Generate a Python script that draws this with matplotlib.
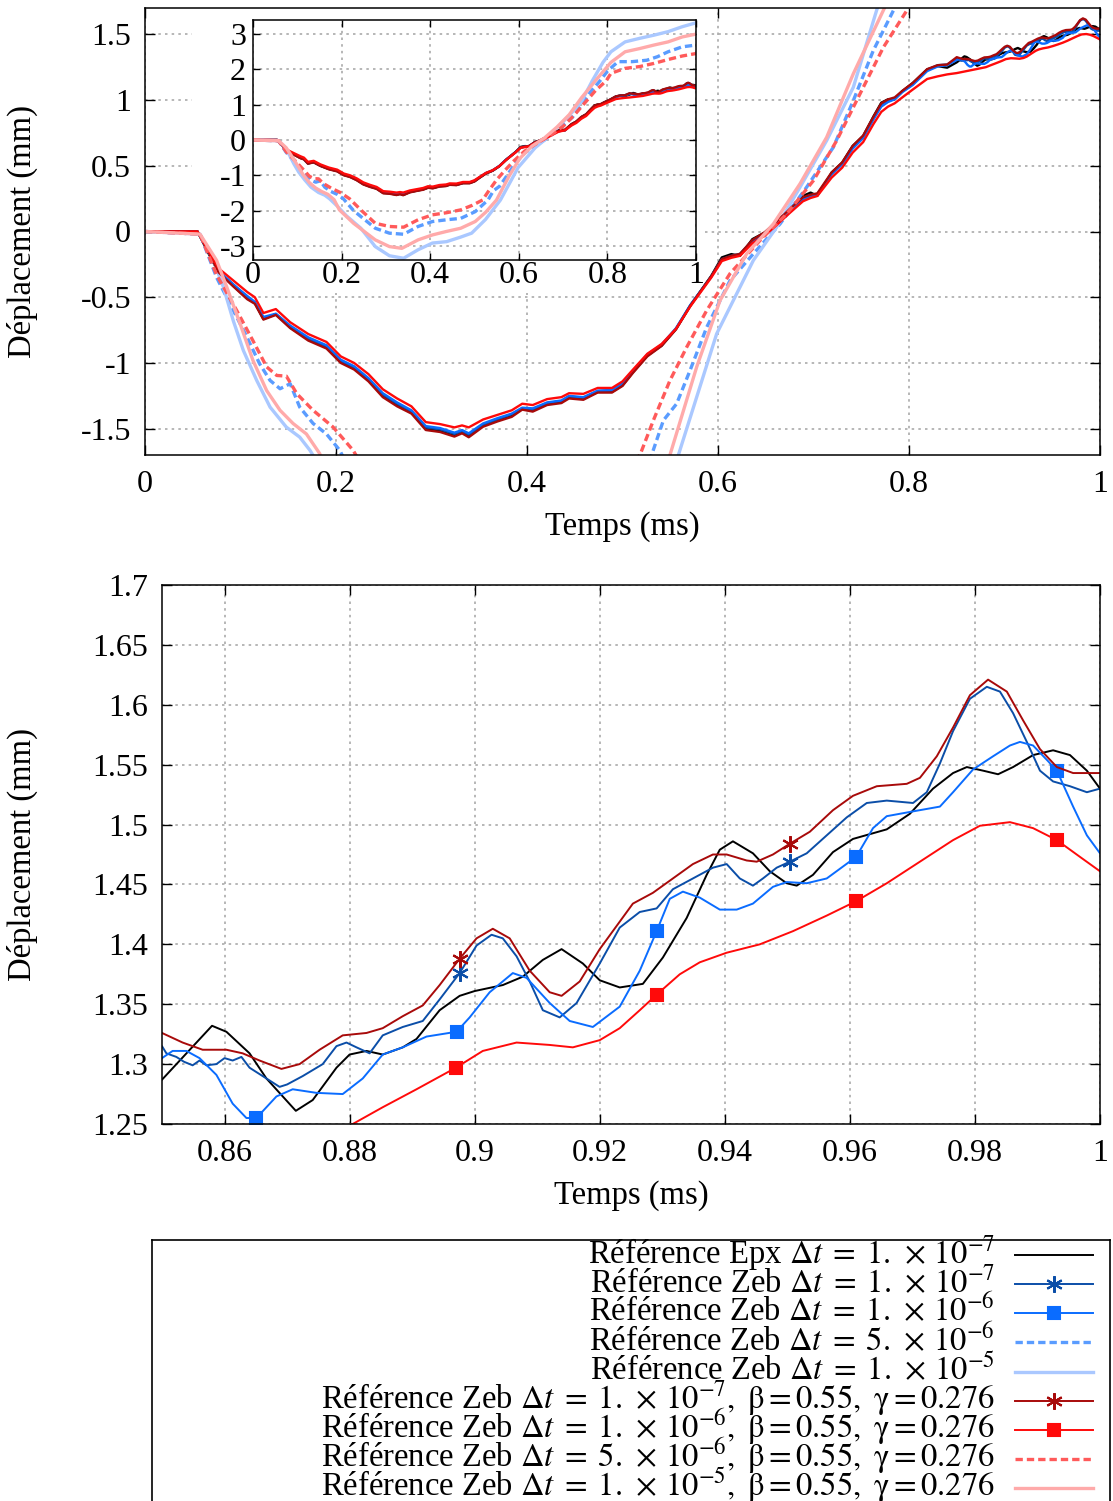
import numpy as np
import matplotlib
matplotlib.use("Agg")
import matplotlib.pyplot as plt
from matplotlib.patches import Rectangle
from matplotlib.ticker import FuncFormatter

plt.rcParams['font.family'] = 'serif'
plt.rcParams['font.serif'] = ['Liberation Serif', 'DejaVu Serif']
plt.rcParams['mathtext.fontset'] = 'stix'
plt.rcParams['axes.unicode_minus'] = False

# %%
# Data (time in ms, displacement in mm)
t_coarse = [0, 0.055, 0.066, 0.077, 0.092, 0.107, 0.115, 0.124, 0.137, 0.152,
            0.171, 0.19, 0.205, 0.219, 0.234, 0.249, 0.264, 0.279, 0.294, 0.309,
            0.324, 0.332, 0.339, 0.354, 0.369, 0.384, 0.395, 0.406, 0.421, 0.436,
            0.444, 0.459, 0.474, 0.489, 0.50, 0.511, 0.526, 0.541, 0.556, 0.571,
            0.593, 0.604, 0.614, 0.623, 0.636, 0.649, 0.66, 0.675, 0.689, 0.697,
            0.704, 0.719, 0.73, 0.741, 0.752, 0.763, 0.771, 0.778, 0.785, 0.793,
            0.804, 0.819, 0.83, 0.84]

epx_coarse = [0, 0, -0.16, -0.31, -0.41, -0.51, -0.54, -0.666, -0.628, -0.73,
              -0.82, -0.88, -0.99, -1.04, -1.13, -1.25, -1.32, -1.375, -1.50, -1.514,
              -1.55, -1.527, -1.557, -1.476, -1.438, -1.40, -1.349, -1.362, -1.311, -1.299,
              -1.26, -1.273, -1.22, -1.22, -1.17, -1.07, -0.944, -0.868, -0.742, -0.565,
              -0.337, -0.197, -0.172, -0.185, -0.058, -0.008, 0.068, 0.17, 0.271, 0.296,
              0.271, 0.448, 0.524, 0.651, 0.727, 0.878, 0.98, 1.005, 1.005, 1.068,
              1.13, 1.233, 1.258, 1.246]
zeb7_coarse = [0, 0, -0.15, -0.30, -0.40, -0.50, -0.545, -0.66, -0.63, -0.725,
               -0.815, -0.875, -0.985, -1.035, -1.125, -1.24, -1.31, -1.37, -1.49, -1.505,
               -1.54, -1.52, -1.545, -1.47, -1.43, -1.39, -1.345, -1.355, -1.305, -1.29,
               -1.255, -1.265, -1.215, -1.21, -1.16, -1.065, -0.94, -0.865, -0.74, -0.56,
               -0.34, -0.21, -0.185, -0.17, -0.07, -0.01, 0.06, 0.165, 0.25, 0.27,
               0.285, 0.44, 0.515, 0.64, 0.72, 0.865, 0.96, 0.99, 1.01, 1.065,
               1.12, 1.23, 1.265, 1.27]
zeb6_coarse = [0, 0, -0.15, -0.30, -0.40, -0.49, -0.535, -0.65, -0.625, -0.715,
               -0.805, -0.865, -0.975, -1.025, -1.115, -1.23, -1.30, -1.36, -1.48, -1.495,
               -1.53, -1.51, -1.535, -1.46, -1.42, -1.385, -1.34, -1.345, -1.30, -1.285,
               -1.25, -1.26, -1.21, -1.205, -1.155, -1.06, -0.935, -0.86, -0.735, -0.56,
               -0.345, -0.215, -0.19, -0.175, -0.075, -0.015, 0.055, 0.16, 0.245, 0.265,
               0.28, 0.435, 0.51, 0.63, 0.71, 0.855, 0.95, 0.985, 1.005, 1.06,
               1.115, 1.22, 1.255, 1.265]
beta7_coarse = [0, 0, -0.15, -0.31, -0.415, -0.515, -0.55, -0.67, -0.635, -0.735,
                -0.83, -0.89, -1.0, -1.05, -1.14, -1.26, -1.33, -1.385, -1.51, -1.525,
                -1.56, -1.535, -1.565, -1.485, -1.445, -1.41, -1.355, -1.37, -1.32, -1.305,
                -1.27, -1.28, -1.225, -1.225, -1.175, -1.075, -0.95, -0.87, -0.745, -0.565,
                -0.34, -0.21, -0.185, -0.17, -0.065, -0.005, 0.065, 0.17, 0.26, 0.28,
                0.29, 0.45, 0.525, 0.65, 0.73, 0.875, 0.975, 1.005, 1.02, 1.07,
                1.13, 1.235, 1.265, 1.27]
beta6_coarse = [0, 0, -0.14, -0.28, -0.37, -0.46, -0.50, -0.62, -0.59, -0.69,
                -0.78, -0.84, -0.95, -1.0, -1.085, -1.2, -1.27, -1.33, -1.45, -1.465,
                -1.49, -1.475, -1.49, -1.43, -1.395, -1.36, -1.31, -1.32, -1.275, -1.26,
                -1.23, -1.235, -1.19, -1.19, -1.14, -1.05, -0.93, -0.855, -0.74, -0.57,
                -0.35, -0.225, -0.2, -0.185, -0.09, -0.03, 0.04, 0.14, 0.23, 0.255,
                0.27, 0.41, 0.485, 0.60, 0.68, 0.82, 0.91, 0.95, 0.975, 1.02,
                1.08, 1.16, 1.18, 1.195]

# detail between 0.85 and 1 ms (bottom panel)
epx_fine_t = [0.85, 0.858, 0.8603, 0.864, 0.8667, 0.8714, 0.8741, 0.8779, 0.88, 0.8827,
              0.8853, 0.8885, 0.8907, 0.8944, 0.8976, 0.90, 0.9045, 0.9077, 0.9109, 0.9139,
              0.9173, 0.92, 0.9232, 0.9269, 0.9301, 0.9339, 0.9371, 0.9392, 0.9413, 0.9445,
              0.9472, 0.9499, 0.9515, 0.9541, 0.9573, 0.9605, 0.9659, 0.9696, 0.9733, 0.9765,
              0.9787, 0.9813, 0.9837, 0.9861, 0.9893, 0.9925, 0.9952, 0.9979, 1.0]
epx_fine = [1.287, 1.332, 1.327, 1.309, 1.288, 1.261, 1.270, 1.297, 1.308, 1.311,
            1.308, 1.314, 1.321, 1.345, 1.357, 1.361, 1.366, 1.373, 1.387, 1.396,
            1.384, 1.370, 1.364, 1.367, 1.389, 1.422, 1.458, 1.479, 1.486, 1.476,
            1.461, 1.451, 1.449, 1.458, 1.477, 1.488, 1.496, 1.509, 1.530, 1.543,
            1.548, 1.545, 1.542, 1.548, 1.558, 1.562, 1.558, 1.545, 1.530]

zeb7_fine_t = [0.85, 0.8507, 0.8523, 0.8535, 0.8549, 0.856, 0.8571, 0.8587, 0.86, 0.8613,
               0.8627, 0.864, 0.8667, 0.8688, 0.87, 0.8725, 0.8757, 0.8779, 0.8795, 0.8811,
               0.8832, 0.8853, 0.8885, 0.8917, 0.8944, 0.8976, 0.9003, 0.9027, 0.9045, 0.9067,
               0.9088, 0.9109, 0.9136, 0.9163, 0.92, 0.9232, 0.9264, 0.9291, 0.9317, 0.9349,
               0.9381, 0.9403, 0.9424, 0.9445, 0.9461, 0.9483, 0.9504, 0.9531, 0.9563, 0.9595,
               0.9627, 0.9659, 0.9701, 0.9723, 0.9744, 0.9765, 0.9792, 0.9819, 0.984, 0.9861,
               0.9883, 0.9904, 0.9925, 0.9952, 0.9979, 1.0]
zeb7_fine = [1.315, 1.309, 1.306, 1.302, 1.299, 1.303, 1.299, 1.300, 1.305, 1.303,
             1.306, 1.297, 1.288, 1.281, 1.283, 1.290, 1.300, 1.315, 1.318, 1.314,
             1.309, 1.324, 1.331, 1.336, 1.354, 1.376, 1.399, 1.408, 1.405, 1.390,
             1.369, 1.345, 1.339, 1.351, 1.384, 1.414, 1.427, 1.430, 1.446, 1.455,
             1.464, 1.467, 1.455, 1.449, 1.455, 1.464, 1.469, 1.476, 1.491, 1.506,
             1.518, 1.520, 1.518, 1.527, 1.551, 1.578, 1.605, 1.615, 1.611, 1.593,
             1.569, 1.545, 1.536, 1.532, 1.527, 1.530]

zeb6_fine_t = [0.85, 0.8517, 0.8539, 0.856, 0.8587, 0.8613, 0.8635, 0.8651, 0.8683, 0.8709,
               0.8747, 0.8789, 0.8821, 0.8853, 0.8885, 0.8923, 0.8971, 0.8992, 0.9024, 0.9061,
               0.9083, 0.912, 0.9152, 0.9189, 0.9232, 0.9264, 0.9291, 0.9312, 0.9333, 0.936,
               0.9392, 0.9419, 0.9445, 0.9477, 0.9499, 0.9531, 0.9563, 0.961, 0.9637, 0.9659,
               0.9701, 0.9744, 0.9765, 0.9797, 0.9829, 0.9856, 0.9872, 0.9893, 0.9915, 0.9931,
               0.9957, 0.9979, 1.0]
zeb6_fine = [1.305, 1.311, 1.311, 1.305, 1.291, 1.267, 1.255, 1.255, 1.273, 1.279,
             1.276, 1.275, 1.288, 1.308, 1.314, 1.323, 1.327, 1.339, 1.360, 1.376,
             1.372, 1.351, 1.336, 1.331, 1.348, 1.378, 1.411, 1.438, 1.444, 1.439,
             1.429, 1.429, 1.434, 1.448, 1.452, 1.451, 1.455, 1.473, 1.497, 1.507,
             1.511, 1.515, 1.527, 1.546, 1.557, 1.566, 1.569, 1.566, 1.554, 1.545,
             1.515, 1.491, 1.476]

beta7_fine_t = [0.85, 0.8533, 0.8565, 0.8603, 0.8629, 0.8656, 0.8691, 0.872, 0.8752, 0.8789,
                0.8827, 0.8853, 0.8885, 0.8917, 0.8944, 0.8976, 0.9003, 0.9029, 0.9056, 0.9088,
                0.912, 0.9139, 0.9168, 0.92, 0.9253, 0.9285, 0.9317, 0.9349, 0.9381, 0.9403,
                0.9435, 0.9451, 0.9477, 0.9504, 0.9536, 0.9573, 0.9605, 0.9643, 0.9691, 0.9712,
                0.9739, 0.9765, 0.9792, 0.9821, 0.9851, 0.9877, 0.9904, 0.9931, 0.9957, 1.0]
beta7_fine = [1.326, 1.318, 1.312, 1.312, 1.309, 1.303, 1.296, 1.300, 1.312, 1.324,
              1.326, 1.330, 1.340, 1.349, 1.366, 1.388, 1.405, 1.413, 1.405, 1.378,
              1.360, 1.357, 1.369, 1.396, 1.434, 1.443, 1.455, 1.467, 1.475, 1.475,
              1.470, 1.469, 1.475, 1.484, 1.494, 1.512, 1.524, 1.532, 1.534, 1.539,
              1.557, 1.581, 1.608, 1.621, 1.611, 1.587, 1.563, 1.548, 1.543, 1.543]

beta6_fine_t = [0.85, 0.865, 0.8805, 0.8853, 0.8907, 0.897, 0.9013, 0.9067, 0.912, 0.9157,
                0.92, 0.9232, 0.9264, 0.9291, 0.9328, 0.936, 0.9403, 0.9456, 0.9509, 0.9563,
                0.961, 0.9659, 0.9712, 0.9765, 0.9808, 0.9856, 0.9893, 0.9931, 0.9968, 1.0]
beta6_fine = [1.205, 1.227, 1.25, 1.264, 1.279, 1.297, 1.311, 1.318, 1.316, 1.314,
              1.320, 1.330, 1.345, 1.358, 1.375, 1.385, 1.393, 1.400, 1.411, 1.424,
              1.436, 1.451, 1.469, 1.487, 1.499, 1.502, 1.497, 1.487, 1.473, 1.461]

# coarse time steps (mostly visible in the inset)
zeb5_t = [0, 0.0576, 0.075, 0.0925, 0.1065, 0.120, 0.131, 0.1414, 0.152, 0.162,
          0.176, 0.190, 0.204, 0.227, 0.276, 0.308, 0.34, 0.3726, 0.405, 0.437,
          0.469, 0.5016, 0.5305, 0.5428, 0.5567, 0.5707, 0.5882, 0.6126, 0.637, 0.665,
          0.6928, 0.7208, 0.7417, 0.7626, 0.7836, 0.80, 0.824, 0.856, 0.889, 0.913,
          0.937, 0.969, 1.0]
zeb5 = [0, -0.02, -0.35, -0.60, -0.80, -1.006, -1.133, -1.196, -1.158, -1.336,
        -1.46, -1.54, -1.665, -2.0, -2.5, -2.64, -2.67, -2.45, -2.31, -2.26,
        -2.22, -2.03, -1.70, -1.437, -1.31, -1.057, -0.728, -0.373, -0.17, 0.058,
        0.337, 0.641, 0.996, 1.376, 1.68, 1.95, 2.22, 2.22, 2.26, 2.36,
        2.5, 2.64, 2.69]

zeb1e5_t = [0, 0.0576, 0.0716, 0.082, 0.0925, 0.103, 0.117, 0.131, 0.148, 0.162,
            0.1728, 0.19, 0.211, 0.2435, 0.276, 0.308, 0.340, 0.3726, 0.405, 0.437,
            0.469, 0.4935, 0.525, 0.5584, 0.5986, 0.637, 0.6614, 0.6859, 0.7138, 0.7417,
            0.766, 0.79, 0.808, 0.840, 0.8726, 0.905, 0.937, 0.969, 1.0]
zeb1e5 = [0, -0.02, -0.22, -0.42, -0.68, -0.905, -1.133, -1.336, -1.488, -1.564,
          -1.665, -1.87, -2.15, -2.50, -3.02, -3.28, -3.35, -3.11, -2.92, -2.88,
          -2.75, -2.64, -2.25, -1.703, -0.778, -0.22, 0.033, 0.337, 0.692, 1.097,
          1.68, 2.2, 2.50, 2.78, 2.88, 2.97, 3.07, 3.21, 3.32]

beta5_t = [0, 0.0576, 0.075, 0.096, 0.113, 0.1274, 0.138, 0.148, 0.159, 0.176,
           0.197, 0.218, 0.245, 0.276, 0.308, 0.34, 0.3726, 0.405, 0.437, 0.469,
           0.495, 0.5183, 0.5323, 0.5497, 0.5672, 0.5882, 0.6126, 0.644, 0.672, 0.70,
           0.7243, 0.7487, 0.7731, 0.7976, 0.808, 0.84, 0.8726, 0.905, 0.937, 0.969, 1.0]
beta5 = [0, -0.02, -0.33, -0.60, -0.83, -1.03, -1.095, -1.10, -1.234, -1.36,
         -1.488, -1.665, -2.0, -2.36, -2.45, -2.47, -2.26, -2.12, -2.06, -1.98,
         -1.85, -1.70, -1.437, -1.133, -0.88, -0.60, -0.32, -0.068, 0.135, 0.388,
         0.692, 1.047, 1.40, 1.68, 1.89, 2.03, 2.08, 2.17, 2.28, 2.38, 2.45]

beta1e5_t = [0, 0.0576, 0.075, 0.0855, 0.0995, 0.113, 0.1274, 0.1414, 0.155, 0.169,
             0.183, 0.195, 0.227, 0.276, 0.308, 0.336, 0.3726, 0.405, 0.437, 0.469,
             0.5016, 0.525, 0.5497, 0.5777, 0.6021, 0.630, 0.658, 0.6859, 0.7138, 0.7417,
             0.773, 0.808, 0.840, 0.8726, 0.905, 0.937, 0.969, 1.0]
beta1e5 = [0, -0.02, -0.22, -0.42, -0.70, -0.98, -1.21, -1.36, -1.46, -1.54,
           -1.69, -1.98, -2.36, -2.83, -3.02, -3.07, -2.83, -2.69, -2.59, -2.50,
           -2.31, -2.05, -1.70, -1.03, -0.525, -0.17, 0.058, 0.363, 0.717, 1.20,
           1.68, 2.20, 2.5, 2.59, 2.69, 2.78, 2.92, 3.0]

# times of the markers seen in the zoomed panel
square_marks = [0.8651, 0.8971, 0.9291, 0.961, 0.9931]
star_marks = [0.8976, 0.9504]

labels = [
    r"Référence Epx $\Delta t \;=\; 1.\,\times\, 10^{-7}$",
    r"Référence Zeb $\Delta t \;=\; 1.\,\times\, 10^{-7}$",
    r"Référence Zeb $\Delta t \;=\; 1.\,\times\, 10^{-6}$",
    r"Référence Zeb $\Delta t \;=\; 5.\,\times\, 10^{-6}$",
    r"Référence Zeb $\Delta t \;=\; 1.\,\times\, 10^{-5}$",
    r"Référence Zeb $\Delta t \;=\; 1.\,\times\, 10^{-7},\ \mathrm{\beta} = 0.55,\ \mathrm{\gamma} = 0.276$",
    r"Référence Zeb $\Delta t \;=\; 1.\,\times\, 10^{-6},\ \mathrm{\beta} = 0.55,\ \mathrm{\gamma} = 0.276$",
    r"Référence Zeb $\Delta t \;=\; 5.\,\times\, 10^{-6},\ \mathrm{\beta} = 0.55,\ \mathrm{\gamma} = 0.276$",
    r"Référence Zeb $\Delta t \;=\; 1.\,\times\, 10^{-5},\ \mathrm{\beta} = 0.55,\ \mathrm{\gamma} = 0.276$",
]

# %%
# Assemble series
series = [
    (np.r_[t_coarse, epx_fine_t], np.r_[epx_coarse, epx_fine],
     dict(color='black', ls='-', lw=1.7, marker=None, marks=[])),
    (np.r_[t_coarse, zeb7_fine_t], np.r_[zeb7_coarse, zeb7_fine],
     dict(color='#0b4ea8', ls='-', lw=1.7, marker=(6, 2, 0), marks=star_marks)),
    (np.r_[t_coarse, zeb6_fine_t], np.r_[zeb6_coarse, zeb6_fine],
     dict(color='#0a6cff', ls='-', lw=1.7, marker='s', marks=square_marks)),
    (np.array(zeb5_t), np.array(zeb5),
     dict(color='#5a9cff', ls=(0, (2.2, 1.2)), lw=2.4, marker=None, marks=[])),
    (np.array(zeb1e5_t), np.array(zeb1e5),
     dict(color='#aac8ff', ls='-', lw=2.4, marker=None, marks=[])),
    (np.r_[t_coarse, beta7_fine_t], np.r_[beta7_coarse, beta7_fine],
     dict(color='#a80a0a', ls='-', lw=1.7, marker=(6, 2, 0), marks=star_marks)),
    (np.r_[t_coarse, beta6_fine_t], np.r_[beta6_coarse, beta6_fine],
     dict(color='#ff0a0a', ls='-', lw=1.7, marker='s', marks=square_marks)),
    (np.array(beta5_t), np.array(beta5),
     dict(color='#ff5a5a', ls=(0, (2.2, 1.2)), lw=2.4, marker=None, marks=[])),
    (np.array(beta1e5_t), np.array(beta1e5),
     dict(color='#ffaaaa', ls='-', lw=2.4, marker=None, marks=[])),
]

# %%
W, H = 1113, 1501
fig = plt.figure(figsize=(W / 100, H / 100), dpi=100)
ax_top = fig.add_axes([145 / W, 1 - 455 / H, 955 / W, 447 / H])
ax_in = fig.add_axes([253 / W, 1 - 260 / H, 443 / W, 240 / H])
ax_bot = fig.add_axes([162 / W, 1 - 1124 / H, 938 / W, 539 / H])

fmt = FuncFormatter(lambda v, p: f"{v:g}")
TICK_FS = 23


def style_axes(ax, xpad, ypad):
    ax.tick_params(direction='in', length=7, width=1, top=True, right=True, labelsize=TICK_FS)
    ax.tick_params(axis='x', pad=xpad)
    ax.tick_params(axis='y', pad=ypad)
    ax.grid(True, color='#aaaaaa', linestyle=(0, (1.5, 2.5)), linewidth=1.2)
    ax.xaxis.set_major_formatter(fmt)
    ax.yaxis.set_major_formatter(fmt)
    for s in ax.spines.values():
        s.set_linewidth(1.1)


for t, y, st in series:
    ax_top.plot(t, y, color=st['color'], ls=st['ls'], lw=st['lw'])
    ax_in.plot(t, y, color=st['color'], ls=st['ls'], lw=st['lw'])
    idx = [int(np.argmin(np.abs(t - m))) for m in st['marks']]
    ms = 9 if st['marker'] == 's' else 12
    ax_bot.plot(t, y, color=st['color'], ls=st['ls'],
                lw=st['lw'] if st['lw'] > 2 else 1.4,
                marker=st['marker'], markevery=idx if idx else None,
                ms=ms, mew=1.5)

# main panel
ax_top.set_xlim(0, 1)
ax_top.set_ylim(-1.7, 1.7)
ax_top.set_xticks(np.arange(0, 1.01, 0.2))
ax_top.set_yticks(np.arange(-1.5, 1.51, 0.5))
style_axes(ax_top, 11, 10)
ax_top.add_patch(Rectangle(((192 - 145) / 955, (455 - 293) / 447), (705 - 192) / 955, 0.7,
                           transform=ax_top.transAxes, fc='white', ec='none', zorder=1.6))
ax_top.set_xlabel("Temps (ms)", fontsize=23.5)
ax_top.xaxis.label.set_va('center')
ax_top.xaxis.set_label_coords(0.5, (455 - 527) / 447)
ax_top.set_ylabel("Déplacement (mm)", fontsize=23.5)
ax_top.yaxis.label.set_va('center')
ax_top.yaxis.set_label_coords((22 - 145) / 955, 0.5)

# inset
ax_in.set_xlim(0, 1)
ax_in.set_ylim(-3.4, 3.4)
ax_in.set_xticks(np.arange(0, 1.01, 0.2))
ax_in.set_yticks(np.arange(-3, 3.1, 1))
style_axes(ax_in, 1, 5)
ax_in.tick_params(length=5)

# zoomed panel
ax_bot.set_xlim(0.85, 1.0)
ax_bot.set_ylim(1.25, 1.7)
ax_bot.set_xticks(np.arange(0.86, 1.0001, 0.02))
ax_bot.set_yticks(np.arange(1.25, 1.7001, 0.05))
style_axes(ax_bot, 11, 10)
ax_bot.set_xlabel("Temps (ms)", fontsize=23.5)
ax_bot.xaxis.label.set_va('center')
ax_bot.xaxis.set_label_coords(0.5, (1124 - 1196) / 539)
ax_bot.set_ylabel("Déplacement (mm)", fontsize=23.5)
ax_bot.yaxis.label.set_va('center')
ax_bot.yaxis.set_label_coords((22 - 162) / 938, 0.5)

# %%
# Legend box under the panels, in pixel-like coordinates (cut by the figure edge)
ax_leg = fig.add_axes([152 / W, -40 / H, (1110 - 152) / W, (1501 - 1240 + 40) / H])
ax_leg.set_xlim(152, 1110)
ax_leg.set_ylim(1501 + 40, 1240)
ax_leg.set_xticks([])
ax_leg.set_yticks([])
for s in ax_leg.spines.values():
    s.set_linewidth(1.2)

x_text, x0, x1 = 995, 1015, 1093
for i, ((t, y, st), lab) in enumerate(zip(series, labels)):
    yl = 1255 + 29.15 * i
    ax_leg.plot([x0, (x0 + x1) / 2, x1], [yl, yl, yl], color=st['color'], ls=st['ls'],
                lw=st['lw'] if st['lw'] > 2 else 1.4, marker=st['marker'],
                markevery=[1] if st['marker'] else None,
                ms=9 if st['marker'] == 's' else 12, mew=1.5)
    ax_leg.text(x_text, yl + 8, lab, ha='right', va='baseline', fontsize=23.5)

fig.savefig("out.png", dpi=100)
plt.close()
